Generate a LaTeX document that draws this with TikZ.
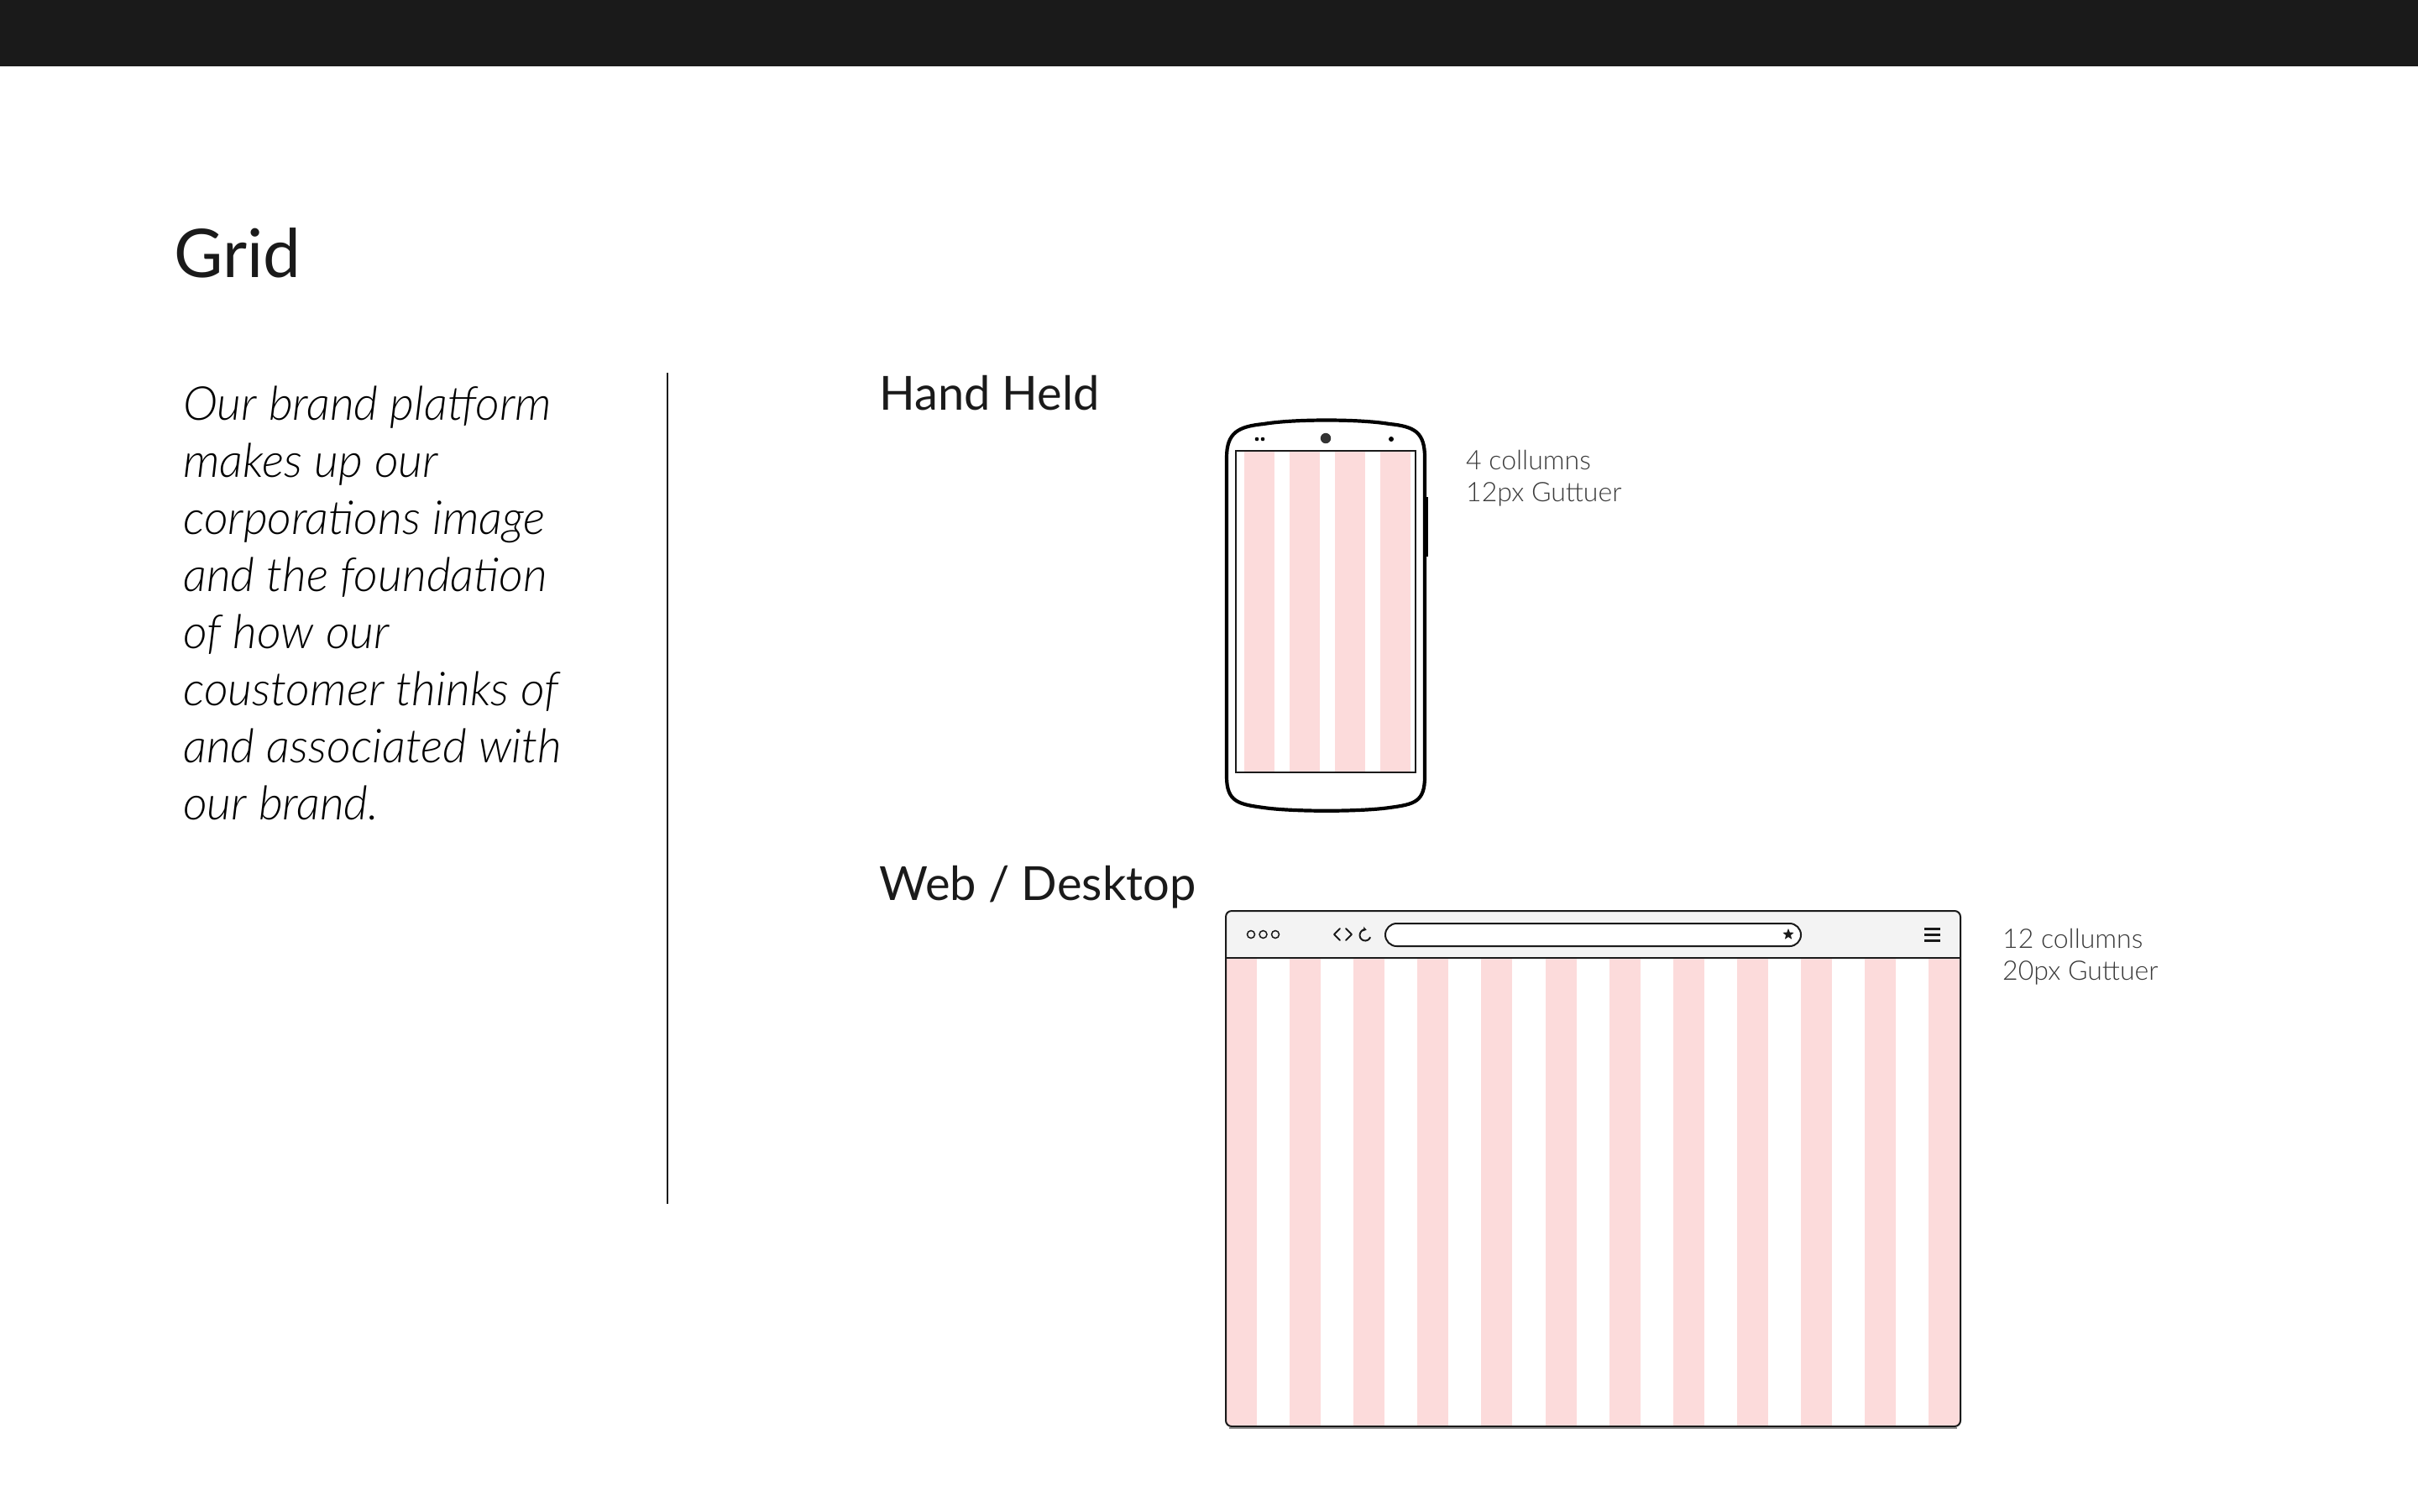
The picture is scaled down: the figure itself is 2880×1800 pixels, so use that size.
\documentclass[tikz,border=0pt]{standalone}
\usepackage{fontspec}
\setmainfont{Lato}
\newfontfamily\latolight{Lato Light}
\usetikzlibrary{shapes.geometric,arrows.meta}
\definecolor{barblack}{HTML}{1A1A1A}
\definecolor{ink}{HTML}{1A1A1A}
\definecolor{notegray}{HTML}{3A3A3A}
\definecolor{gridpink}{RGB}{252,219,219}
\definecolor{toolgray}{HTML}{F3F3F3}
\begin{document}
\begin{tikzpicture}[x=1pt,y=-1pt,
  heading/.style={anchor=base west,inner sep=0pt,text=ink,font=\fontsize{56}{68}\selectfont},
  bodyline/.style={anchor=base west,inner sep=0pt,text=black,font=\latolight\itshape\fontsize{55.8}{68}\selectfont},
  notetext/.style={anchor=base west,inner sep=0pt,text=notegray,font=\latolight\fontsize{32}{38}\selectfont},
  pinkcol/.style={fill=gridpink,draw=none}]
\useasboundingbox (0,0) rectangle (2880,1800);
\fill[white] (0,0) rectangle (2880,1800);
\fill[barblack] (0,0) rectangle (2880,79);

% title
\node[anchor=base west,inner sep=0pt,text=ink,font=\fontsize{80}{96}\selectfont] (title) at (207,330) {Grid};

% body text
\foreach \t [count=\i] in {Our brand platform,makes up our,corporations image,and the foundation,of how our,coustomer thinks of,and associated with,our brand.}
  \node[bodyline] (body\i) at (218,{500+(\i-1)*68}) {\t};

% divider
\coordinate (vtop) at (795,444);
\coordinate (vbot) at (795,1434);
\draw[line width=2pt,ink] (vtop) -- (vbot);

% headings
\node[heading] (hand) at (1047,488) {Hand Held};
\node[heading] (web) at (1047,1072) {Web / Desktop};

% phone
\foreach \i in {0,...,3}
  \fill[pinkcol] ({1482+\i*54},538) rectangle ++(36,381);
\draw[line width=2.2pt,ink] (1472,537) rectangle (1686,920);
\draw[line width=4.2pt,black,line join=round]
  (1461,545) .. controls (1461,515) and (1475,508) .. (1505,505)
  .. controls (1540,499) and (1620,499) .. (1655,505)
  .. controls (1685,508) and (1697,515) .. (1697,545)
  -- (1697,925)
  .. controls (1697,955) and (1685,958) .. (1655,962)
  .. controls (1620,967) and (1540,967) .. (1505,962)
  .. controls (1475,958) and (1461,955) .. (1461,925) -- cycle;
\draw[line width=3pt,black] (1699,592) -- (1699,663);
\fill[black] (1497,523) circle (2.3);
\fill[black] (1504,523) circle (2.3);
\fill[black!80] (1579,522) circle (6.2);
\fill[black] (1657,523) circle (3);

\node[notetext] (hnote1) at (1746,559) {4 collumns};
\node[notetext] (hnote2) at (1746,597) {12px Guttuer};

% browser
\begin{scope}
  \clip[rounded corners=7] (1460,1699) -- (1460,1085) -- (2335,1085) -- (2335,1699) -- cycle;
  \fill[toolgray] (1460,1085) rectangle (2335,1141);
  \foreach \i in {0,...,11}
    \fill[pinkcol] ({1460+\i*76.1},1141) rectangle ++(37,560);
\end{scope}
\draw[line width=1.6pt,ink] (1460,1141) -- (2335,1141);
\draw[line width=2pt,ink,rounded corners=7] (1460,1699) -- (1460,1085) -- (2335,1085) -- (2335,1699) -- cycle;
\draw[line width=1.5pt,black!45] (1464,1701) -- (2331,1701);

% toolbar icons
\foreach \cx in {1490,1504.5,1519}
  \draw[line width=1.5pt,ink] (\cx,1113) circle (4.5);
\draw[line width=2pt,ink,line join=round,line cap=round] (1596,1106) -- (1589,1113) -- (1596,1120);
\draw[line width=2pt,ink,line join=round,line cap=round] (1603,1106) -- (1610,1113) -- (1603,1120);
\draw[line width=2pt,ink,-{Stealth[length=4.5pt,width=6pt]}] (1626,1114) ++(20:6.5) arc[start angle=20,end angle=285,radius=6.5];
\draw[line width=2pt,ink,fill=white,rounded corners=13.5] (1650,1100) rectangle (2145,1127);
\node[star,star points=5,star point ratio=2.3,fill=ink,inner sep=0pt,minimum size=14pt] (star) at (2130,1113) {};
\foreach \yy in {1106,1113,1120}
  \draw[line width=3pt,ink] (2292,\yy) -- (2311,\yy);

\node[notetext] (wnote1) at (2385,1129) {12 collumns};
\node[notetext] (wnote2) at (2385,1167) {20px Guttuer};
\end{tikzpicture}
\end{document}
